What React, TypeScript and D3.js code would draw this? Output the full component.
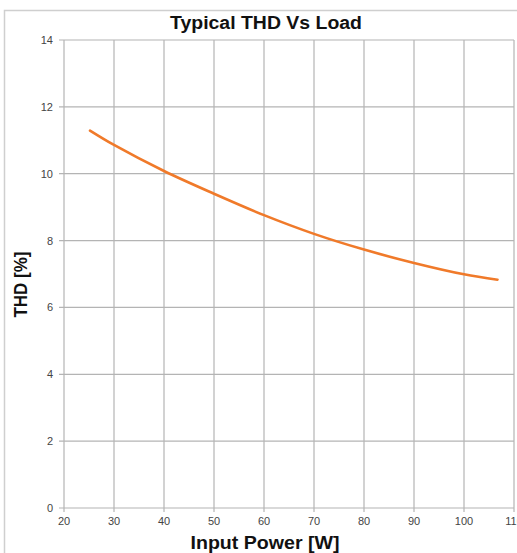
import React from "react";
import * as d3 from "d3";

const powerW = [25.2, 30, 40, 50, 60, 70, 80, 90, 100, 106.7];
const thdPct = [11.29, 10.86, 10.08, 9.4, 8.76, 8.2, 7.73, 7.33, 6.99, 6.83];
const xTicks = [20, 30, 40, 50, 60, 70, 80, 90, 100, 110];
const yTicks = [0, 2, 4, 6, 8, 10, 12, 14];
const xTickLabels = ["20", "30", "40", "50", "60", "70", "80", "90", "100", "110"];

const W = 517;
const H = 553;
const left = 64;
const right = 514;
const top = 40;
const bottom = 508;

export default function App() {
  const x = d3.scaleLinear().domain([20, 110]).range([left, right]);
  const y = d3.scaleLinear().domain([0, 14]).range([bottom, top]);
  const pts: [number, number][] = powerW.map((p, i) => [p, thdPct[i]]);
  const line = d3
    .line<[number, number]>()
    .x((d) => x(d[0]))
    .y((d) => y(d[1]))
    .curve(d3.curveCatmullRom.alpha(0.5));
  const grid = "#b4b4b4";
  const font = "'Liberation Sans', Arial, sans-serif";
  return (
    <svg
      width={W}
      height={H}
      style={{ position: "absolute", left: 0, top: 0, background: "#fff" }}
      fontFamily={font}
    >
      <rect x={0} y={0} width={W} height={H} fill="#fff" />
      {/* outer frame */}
      <path d={`M4.5,${H + 2} V10.5 H${W + 2}`} fill="none" stroke="#cfcfcf" strokeWidth={1.5} />
      {/* grid */}
      {xTicks.map((t) => (
        <line key={"gx" + t} x1={x(t)} x2={x(t)} y1={top} y2={bottom + 4} stroke={grid} strokeWidth={1.2} />
      ))}
      {yTicks.map((t) => (
        <line key={"gy" + t} x1={left - 5} x2={right} y1={y(t)} y2={y(t)} stroke={grid} strokeWidth={1.2} />
      ))}
      {/* y tick labels */}
      {yTicks.map((t) => (
        <text key={"ty" + t} x={53} y={y(t) + 4} textAnchor="end" fontSize={11} fill="#444">
          {t}
        </text>
      ))}
      {xTicks.map((t, i) => (
        <text key={"tx" + t} x={x(t)} y={525} textAnchor="middle" fontSize={11} fill="#444">
          {xTickLabels[i]}
        </text>
      ))}
      {/* curve */}
      <path d={line(pts) || ""} fill="none" stroke="#f07a2a" strokeWidth={2.6} strokeLinecap="round" />
      {/* titles */}
      <text
        x={266}
        y={29}
        textAnchor="middle"
        fontSize={18}
        fontWeight="bold"
        fill="#111"
        textLength={192}
        lengthAdjust="spacingAndGlyphs"
      >
        Typical THD Vs Load
      </text>
      <text
        x={265}
        y={549}
        textAnchor="middle"
        fontSize={18}
        fontWeight="bold"
        fill="#111"
        textLength={149}
        lengthAdjust="spacingAndGlyphs"
      >
        Input Power [W]
      </text>
      <text
        transform={`translate(27,284.5) rotate(-90)`}
        textAnchor="middle"
        fontSize={18}
        fontWeight="bold"
        fill="#111"
        textLength={66}
        lengthAdjust="spacingAndGlyphs"
      >
        THD [%]
      </text>
    </svg>
  );
}
